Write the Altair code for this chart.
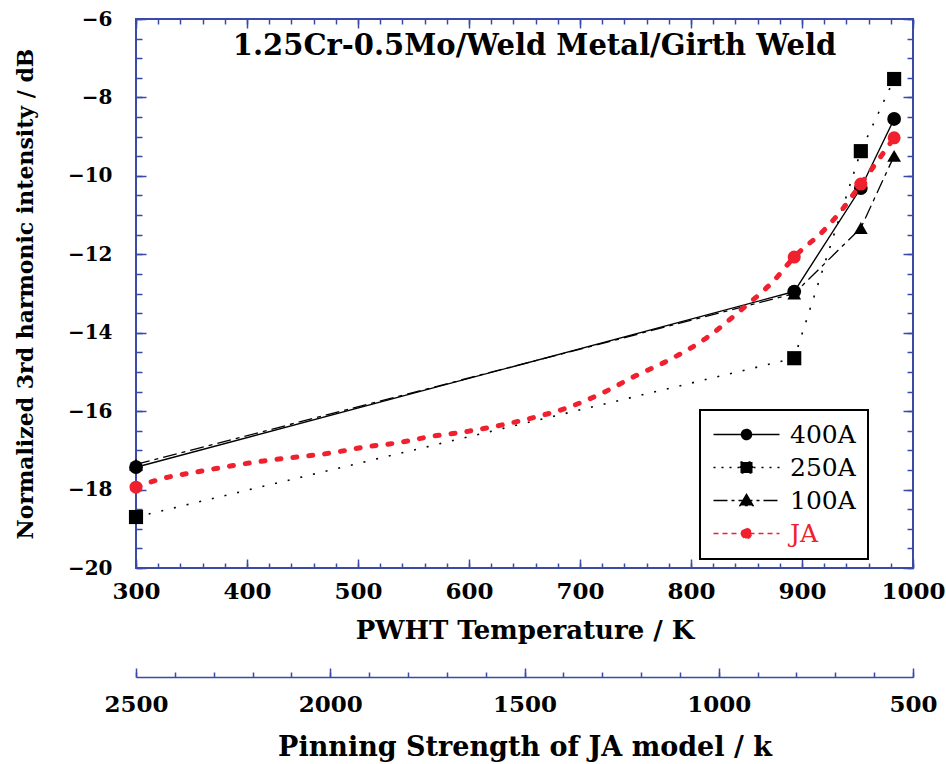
import altair as alt
import pandas as pd

# ---------------- data ----------------
temps = [300, 893, 953, 983]
s400 = [-17.43, -12.95, -10.31, -8.55]
s250 = [-18.70, -14.65, -9.37, -7.53]
s100 = [-17.36, -13.00, -11.33, -9.49]

ja_T = [300, 325, 355, 385, 415, 445, 475, 505, 535, 565, 600, 630, 660, 690,
        720, 750, 780, 815, 845, 875, 893, 920, 935, 953, 983]
ja_v = [-17.94, -17.71, -17.55, -17.40, -17.27, -17.17, -17.07, -16.92, -16.81,
        -16.65, -16.51, -16.35, -16.15, -15.90, -15.54, -15.10, -14.70, -14.11,
        -13.42, -12.66, -12.07, -11.38, -10.90, -10.21, -9.03]
ja_marker_T = [300, 893, 953, 983]
ja_marker_v = [-17.94, -12.07, -10.21, -9.03]

series_names = ["400A", "250A", "100A", "JA"]

x_major = [300, 400, 500, 600, 700, 800, 900, 1000]
x_minor = list(range(300, 1001, 20))
y_major = [-20, -18, -16, -14, -12, -10, -8, -6]
y_minor = [-20 + 0.5 * i for i in range(29)]
k_major = [2500, 2000, 1500, 1000, 500]
k_minor = list(range(500, 2501, 100))

title_text = "1.25Cr-0.5Mo/Weld Metal/Girth Weld"
x_title = "PWHT Temperature / K"
y_title = "Normalized 3rd harmonic intensity / dB"
k_title = "Pinning Strength of JA model / k"

# ---------------- frames ----------------
meas = pd.DataFrame({
    "T": temps * 3,
    "v": s400 + s250 + s100,
    "series": ["400A"] * 4 + ["250A"] * 4 + ["100A"] * 4,
})
ja = pd.DataFrame({"T": ja_T, "v": ja_v})
ja_pts = pd.DataFrame({"T": ja_marker_T, "v": ja_marker_v})
leg_df = pd.DataFrame({"series": series_names})
k_df = pd.DataFrame({"k": k_major})

# ---------------- style ----------------
BLUE = "#3b4aa6"
RED = "#f0202f"
FONT = "DejaVu Serif"
W, H = 777, 549

xscale = alt.Scale(domain=[300, 1000], nice=False, zero=False)
yscale = alt.Scale(domain=[-20, -6], nice=False, zero=False)
kscale = alt.Scale(domain=[2500, 500], nice=False, zero=False)


def X(axis=None):
    return alt.X("T:Q", scale=xscale, axis=axis)


def Y(axis=None):
    return alt.Y("v:Q", scale=yscale, axis=axis)


def tick_axis(orient, offset, values, size):
    return alt.Axis(orient=orient, offset=offset, values=values, tickSize=size,
                    labels=False, domain=False, ticks=True, title=None,
                    tickColor=BLUE, tickWidth=1.5, grid=False)


def carrier(xa=None, ya=None):
    return alt.Chart(meas).transform_filter("false").mark_point().encode(x=X(xa), y=Y(ya))


def k_carrier(ka):
    return alt.Chart(k_df).transform_filter("false").mark_point().encode(
        x=alt.X("k:Q", scale=kscale, axis=ka))


layers = []

# main axes (labels + titles)
layers.append(carrier(
    alt.Axis(orient="bottom", values=x_major, ticks=False, domain=False,
             labelFontSize=23, labelPadding=12, labelFlush=False, format="d",
             title=x_title, titleFontSize=26, titlePadding=14),
    alt.Axis(orient="left", values=y_major, ticks=False, domain=False,
             labelFontSize=20, labelPadding=24, format="d",
             title=y_title, titleFontSize=22, titlePadding=30),
))
# inward ticks, bottom & left edges
layers.append(carrier(tick_axis("top", -H, x_major, 9), tick_axis("right", -W, y_major, 10)))
layers.append(carrier(tick_axis("top", -H, x_minor, 5), tick_axis("right", -W, y_minor, 6)))
# inward ticks, top & right edges
layers.append(carrier(tick_axis("bottom", -H, x_major, 9), tick_axis("left", -W, y_major, 10)))
layers.append(carrier(tick_axis("bottom", -H, x_minor, 5), tick_axis("left", -W, y_minor, 6)))

# secondary (pinning strength) axis
KOFF = 109
layers.append(k_carrier(alt.Axis(orient="top", offset=-(H + KOFF), values=k_major, tickSize=9,
                                  labels=False, domain=True, domainColor=BLUE, domainWidth=1.5,
                                  tickColor=BLUE, tickWidth=1.5, title=None, grid=False)))
layers.append(k_carrier(alt.Axis(orient="top", offset=-(H + KOFF), values=k_minor, tickSize=5,
                                  labels=False, domain=False, tickColor=BLUE, tickWidth=1.5,
                                  title=None, grid=False)))
layers.append(k_carrier(alt.Axis(orient="bottom", offset=KOFF, values=k_major, ticks=False,
                                  domain=False, labelFontSize=23, labelPadding=16,
                                  labelFlush=False, format="d", title=k_title,
                                  titleFontSize=27, titlePadding=18, grid=False)))

# measured series
styles = {
    "250A": dict(dash=[2, 11], shape="square", size=200, width=1.6),
    "100A": dict(dash=[14, 5, 4, 5], shape="triangle-up", size=190, width=1.3),
    "400A": dict(dash=None, shape="circle", size=190, width=1.4),
}
for name in ["250A", "100A", "400A"]:
    st = styles[name]
    d = meas[meas.series == name]
    if st["dash"] is None:
        ln = alt.Chart(d).mark_line(color="black", strokeWidth=st["width"])
    else:
        ln = alt.Chart(d).mark_line(color="black", strokeWidth=st["width"], strokeDash=st["dash"])
    layers.append(ln.encode(x=X(), y=Y()))
for name in ["250A", "100A", "400A"]:
    st = styles[name]
    d = meas[meas.series == name]
    layers.append(alt.Chart(d).mark_point(shape=st["shape"], filled=True, color="black",
                                          size=st["size"], opacity=1).encode(x=X(), y=Y()))

# JA model curve
layers.append(alt.Chart(ja).mark_line(color=RED, strokeWidth=5, strokeDash=[4, 12],
                                      strokeCap="round", interpolate="monotone").encode(x=X(), y=Y()))
layers.append(alt.Chart(ja_pts).mark_point(shape="circle", filled=True, color=RED, size=170,
                                           opacity=1).encode(x=X(), y=Y()))

# legend (symbols are line + marker paths)
LINE = "M-3.3,0L3.3,0"
sym_paths = [
    LINE + "M-0.5,0A0.5,0.5 0 1,0 0.5,0A0.5,0.5 0 1,0 -0.5,0Z",
    LINE + "M-0.6,-0.55L0.6,-0.55L0.6,0.55L-0.6,0.55Z",
    LINE + "M0,-0.6L0.65,0.5L-0.65,0.5Z",
    LINE + "M-0.5,0A0.5,0.5 0 1,0 0.5,0A0.5,0.5 0 1,0 -0.5,0Z",
]
leg_colors = ["black", "black", "black", RED]
leg_dash = [[1, 0], [2, 6], [14, 4, 3, 4], [5, 4]]
legend = alt.Legend(title=None, orient="none", legendX=564, legendY=391, padding=12,
                    symbolOffset=22, labelOffset=31, rowPadding=7,
                    strokeColor="black", fillColor="white",
                    labelFont=FONT, labelFontSize=25, labelLimit=0,
                    labelColor=alt.ExprRef(expr="datum.value == 'JA' ? '" + RED + "' : 'black'"),
                    symbolSize=400, symbolStrokeWidth=1.5, symbolOpacity=1)
layers.append(alt.Chart(leg_df).transform_filter("false").mark_point(filled=True, opacity=1).encode(
    fill=alt.Fill("series:N", scale=alt.Scale(domain=series_names, range=leg_colors), legend=legend),
    stroke=alt.Stroke("series:N", scale=alt.Scale(domain=series_names, range=leg_colors), legend=legend),
    shape=alt.Shape("series:N", scale=alt.Scale(domain=series_names, range=sym_paths), legend=legend),
    strokeDash=alt.StrokeDash("series:N", scale=alt.Scale(domain=series_names, range=leg_dash), legend=legend),
))

chart = alt.layer(*layers).resolve_scale(
    x="independent", y="independent"
).properties(
    width=W, height=H,
    title=alt.TitleParams(title_text, font=FONT, fontSize=29, fontWeight="bold", color="black",
                          anchor="middle", offset=-52, frame="group", dx=10),
    padding={"left": 136, "top": 19, "right": 33, "bottom": 196},
    autosize=alt.AutoSizeParams(type="none"),
).configure_view(
    stroke=BLUE, strokeWidth=2
).configure_axis(
    labelFont=FONT, labelFontWeight="bold", labelColor="black",
    titleFont=FONT, titleFontWeight="bold", titleColor="black", grid=False
).configure_legend(
    strokeWidth=2
)

chart.save("out.html", embed_options={"renderer": "svg", "actions": False})
